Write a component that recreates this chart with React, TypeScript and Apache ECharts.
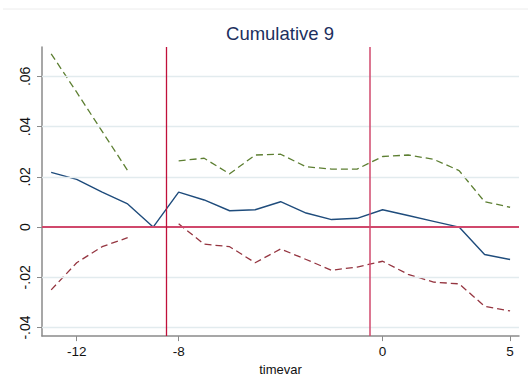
import React, { useEffect, useRef } from "react";
import * as echarts from "echarts";

const timevar = [-13, -12, -11, -10, -9, -8, -7, -6, -5, -4, -3, -2, -1, 0, 1, 2, 3, 4, 5];
const estimate = [0.0218, 0.019, 0.0139, 0.0092, 0.0, 0.0139, 0.0108, 0.0065, 0.0069, 0.0101, 0.0056, 0.003, 0.0035, 0.0069, 0.0046, 0.0023, 0.0, -0.0109, -0.0129];
const upper = [0.069, 0.0537, 0.0381, 0.0225, null, 0.0264, 0.0274, 0.0212, 0.0287, 0.029, 0.024, 0.0231, 0.0231, 0.0281, 0.0287, 0.027, 0.0225, 0.0101, 0.0079];
const lower = [-0.025, -0.0142, -0.0078, -0.0042, null, 0.0013, -0.0068, -0.0078, -0.0142, -0.0087, -0.0129, -0.0172, -0.0159, -0.0136, -0.0188, -0.0219, -0.0226, -0.0315, -0.0334];
const xTicks = [-12, -8, 0, 5];
const yTicks = [-0.04, -0.02, 0, 0.02, 0.04, 0.06];
const vLines = [-8.5, -0.5];
const titleText = "Cumulative 9";
const xName = "timevar";

const fmtY = (v: number) => {
  if (Math.abs(v) < 1e-9) return "0";
  const s = Math.abs(v).toFixed(2).replace(/^0/, "");
  return (v < 0 ? "-" : "") + s;
};

export default function App() {
  const ref = useRef<HTMLDivElement>(null);
  useEffect(() => {
    if (!ref.current) return;
    const chart = echarts.init(ref.current, null, { renderer: "svg" });
    const pairs = (arr: (number | null)[]) => timevar.map((x, i) => [x, arr[i]]);
    const font = "Liberation Sans, Arial, sans-serif";
    chart.setOption({
      animation: false,
      backgroundColor: "#ffffff",
      textStyle: { fontFamily: font },
      grid: { left: 42, right: 9, top: 47, bottom: 38.7, containLabel: false },
      graphic: [
        {
          type: "line",
          shape: { x1: 3, y1: 9, x2: 528, y2: 9 },
          style: { stroke: "#ececec", lineWidth: 1 },
          silent: true,
        },
        {
          type: "text",
          x: 280,
          y: 33,
          style: {
            text: titleText,
            fontSize: 18.5,
            fontFamily: font,
            fill: "#1c2f5e",
            textAlign: "center",
            textVerticalAlign: "middle",
          },
        },
      ],
      xAxis: {
        type: "value",
        min: -13.36,
        max: 5.35,
        name: xName,
        nameLocation: "middle",
        nameGap: 23,
        nameTextStyle: { fontSize: 13, color: "#111", fontFamily: font },
        axisLine: { show: true, onZero: false, lineStyle: { color: "#8a8a8a", width: 1.5 } },
        axisTick: { show: true, customValues: xTicks, length: 5, lineStyle: { color: "#8a8a8a", width: 1 } },
        axisLabel: {
          customValues: xTicks,
          margin: 8,
          fontSize: 13.5,
          color: "#111",
          fontFamily: font,
        },
        splitLine: { show: false },
      },
      yAxis: {
        type: "value",
        min: -0.0434,
        max: 0.0717,
        axisLine: { show: true, onZero: false, lineStyle: { color: "#8a8a8a", width: 1.5 } },
        axisTick: { show: true, customValues: yTicks, length: 5, lineStyle: { color: "#8a8a8a", width: 1 } },
        axisLabel: {
          customValues: yTicks,
          rotate: 90,
          margin: 10,
          fontSize: 14,
          color: "#111",
          fontFamily: font,
          formatter: (v: number) => fmtY(v),
        },
        splitLine: { show: false },
      },
      series: [
        {
          type: "line",
          data: [],
          silent: true,
          z: 1,
          markLine: {
            silent: true,
            symbol: "none",
            label: { show: false },
            lineStyle: { color: "#e2ebee", width: 1.3, type: "solid" },
            data: yTicks.filter((v) => v !== 0).map((v) => ({ yAxis: v })),
          },
        },
        {
          name: "upper",
          type: "line",
          data: pairs(upper),
          showSymbol: false,
          connectNulls: false,
          z: 3,
          lineStyle: { color: "#5d7f32", width: 1.3, type: [7, 4] },
        },
        {
          name: "lower",
          type: "line",
          data: pairs(lower),
          showSymbol: false,
          connectNulls: false,
          z: 3,
          lineStyle: { color: "#953540", width: 1.3, type: [7, 4] },
        },
        {
          name: "estimate",
          type: "line",
          data: pairs(estimate),
          showSymbol: false,
          z: 3,
          lineStyle: { color: "#1f4c7c", width: 1.4 },
        },
        {
          type: "line",
          data: [],
          silent: true,
          z: 4,
          markLine: {
            silent: true,
            symbol: "none",
            label: { show: false },
            data: [
              { yAxis: 0, lineStyle: { color: "#d0486c", width: 1.8, type: "solid" } },
              { xAxis: vLines[0], lineStyle: { color: "#c0103a", width: 1.3, type: "solid" } },
              { xAxis: vLines[1], lineStyle: { color: "#d0486c", width: 1.5, type: "solid" } },
            ],
          },
        },
      ],
    });
    return () => chart.dispose();
  }, []);
  return (
    <div
      ref={ref}
      style={{ position: "fixed", left: 0, top: 0, width: 528, height: 381 }}
    />
  );
}
